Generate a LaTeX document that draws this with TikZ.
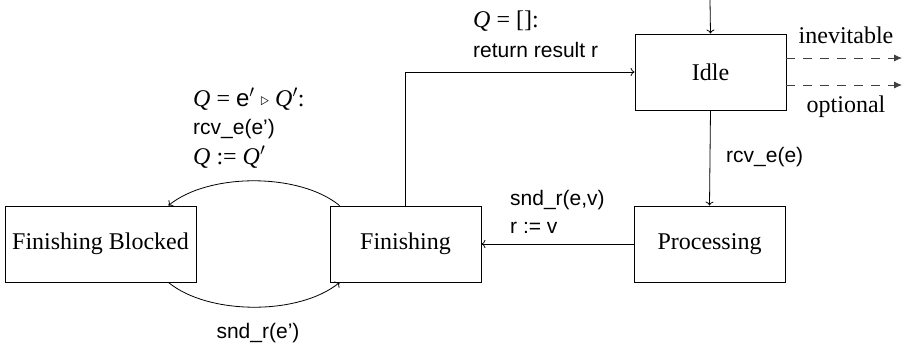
\documentclass[tikz,border=0pt]{standalone}
\usepackage{fontspec}
\setmainfont{Liberation Serif}
\setsansfont{Liberation Sans}
\usetikzlibrary{arrows.meta,calc}
\begin{document}
\begin{tikzpicture}[x=1pt,y=-1pt,
  state/.style={draw,line width=0.8pt,minimum height=76pt,inner sep=0pt,font=\fontsize{24}{28}\selectfont},
  edge/.style={line width=0.8pt,-{To[length=4pt,width=8pt]}},
  opt/.style={line width=0.8pt,draw=black!75,dash pattern=on 9pt off 8pt,-{Latex[length=8pt,width=7pt]}},
  lab/.style={font=\sffamily\fontsize{21}{28}\selectfont,inner sep=0pt},
  slab/.style={font=\fontsize{24}{28}\selectfont,inner sep=0pt}]
\useasboundingbox (0,0) rectangle (906,348);
\node[state,minimum width=151pt] (idle) at (710.5,72) {Idle};
\node[state,minimum width=191pt] (fb) at (100.5,244) {Finishing Blocked};
\node[state,minimum width=151pt] (fin) at (405.5,244) {Finishing};
\node[state,minimum width=151pt] (proc) at (709.5,244) {Processing};
\coordinate (init) at (710,0);
\draw[edge] (init) -- (idle.north);
\draw[edge] (idle.south) -- (proc.north);
\draw[edge] (proc.west) -- (fin.east);
\draw[edge] (fin.north) |- (idle.west);
\draw[edge] ([xshift=10pt]fin.north west) .. controls +(-40,-33) and +(40,-33) .. ([xshift=-28pt]fb.north east);
\draw[edge] ([xshift=-28pt]fb.south east) .. controls +(40,33) and +(-40,33) .. ([xshift=10pt]fin.south west);
\coordinate (o1) at (902,58);
\coordinate (o2) at (902,85);
\draw[opt] (idle.east |- o1) -- (o1);
\draw[opt] (idle.east |- o2) -- (o2);
\node[slab] (inev) at (846,35) {inevitable};
\node[slab] (optl) at (846,107) {optional};
\node[lab,anchor=west] (rcv) at (726,157) {rcv\_e(e)};
\node[lab,anchor=west] (snd1) at (510,200) {snd\_r(e,v)};
\node[lab,anchor=west] (snd2) at (510,228) {r := v};
\node[lab] (snd3) at (258,333) {snd\_r(e’)};
\node[slab,anchor=west] (ret1) at (473,21) {\textit{Q} = []:};
\node[lab,anchor=west] (ret2) at (473,50) {return result r};
\node[slab,anchor=west] (q1) at (193,99) {\textit{Q} = {\sffamily e}$'$ \raisebox{1pt}{\scalebox{0.7}{$\triangleright$}} \textit{Q}$'$:};
\node[lab,anchor=west] (q2) at (193,129) {rcv\_e(e’)};
\node[slab,anchor=west] (q3) at (193,157) {\textit{Q} := \textit{Q}$'$};
\end{tikzpicture}
\end{document}
